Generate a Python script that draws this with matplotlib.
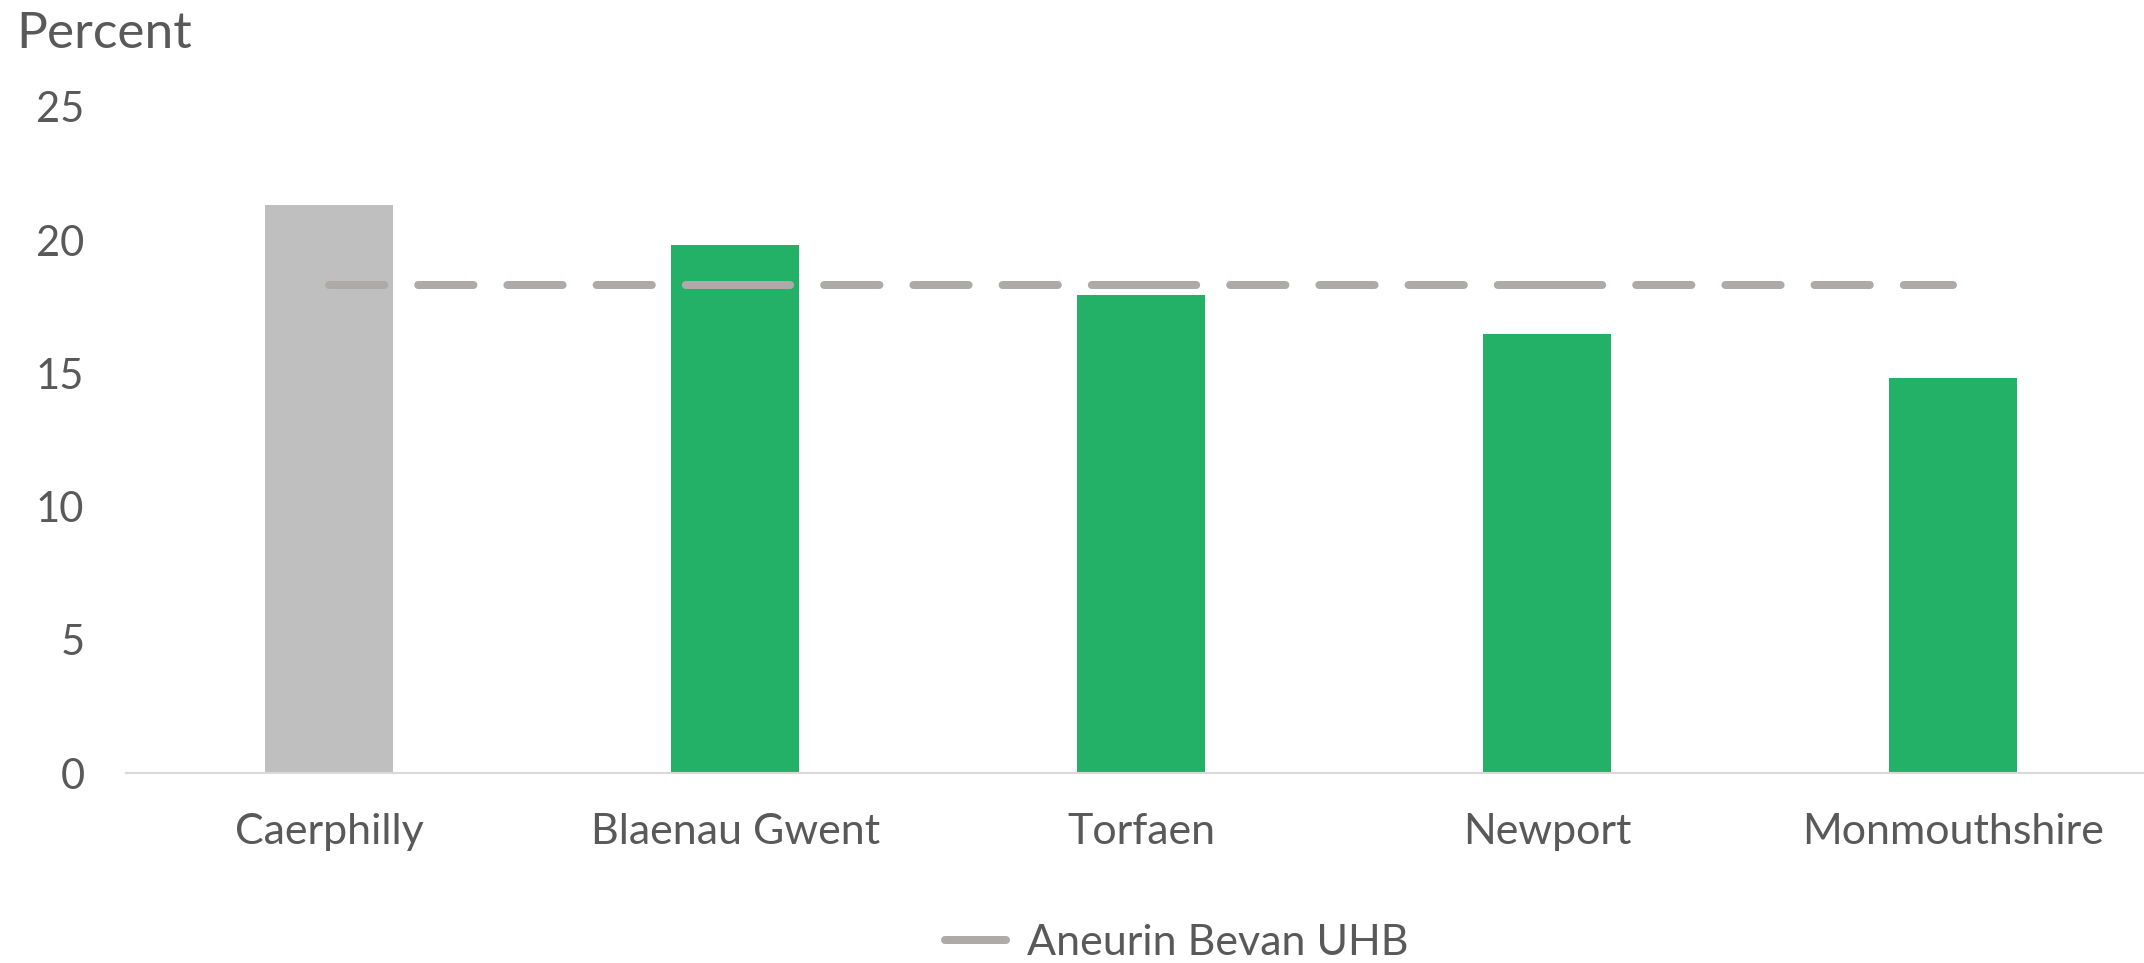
import matplotlib
matplotlib.use("Agg")
import matplotlib.pyplot as plt
from matplotlib.lines import Line2D

categories = ["Caerphilly", "Blaenau Gwent", "Torfaen", "Newport", "Monmouthshire"]
values = [21.33, 19.83, 17.95, 16.48, 14.82]
bar_colors = ["#BFBFBF", "#23B067", "#23B067", "#23B067", "#23B067"]
uhb_value = [18.3, 18.3, 18.3, 18.3, 18.3]
uhb_label = "Aneurin Bevan UHB"
yticks = [0, 5, 10, 15, 20, 25]
ylabel = "Percent"

plt.rcParams['font.family'] = ['Lato', 'DejaVu Sans']
text_color = "#595959"
line_color = "#AEAAAA"

fig = plt.figure(figsize=(21.44, 9.63), dpi=100)
ax = fig.add_axes([0.0588, 0.1973, 0.9412, 0.6917])

x = list(range(len(categories)))
ax.bar(x, values, width=0.315, color=bar_colors, zorder=2)

lw = 5.76
for i in range(len(x) - 1):
    ax.plot(x[i:i + 2], uhb_value[i:i + 2], color=line_color, lw=lw,
            dashes=(6.9, 4.25), solid_capstyle='round', dash_capstyle='round', zorder=3)

ax.set_xlim(-0.5, 4.47)
ax.set_ylim(0, 25)
ax.set_yticks(yticks)
ax.set_xticks(x)
ax.set_xticklabels(categories)
ax.tick_params(axis='both', length=0, labelsize=30, colors=text_color)
ax.tick_params(axis='x', labelsize=31, pad=29)
ax.tick_params(axis='y', pad=30)
for s in ['top', 'right', 'left']:
    ax.spines[s].set_visible(False)
ax.spines['bottom'].set_color("#D9D9D9")
ax.spines['bottom'].set_linewidth(1.5)

fig.text(16 / 2144, 1 - 34 / 963, ylabel, fontsize=37, color=text_color,
         ha='left', va='center')

handle = Line2D([0], [0], color=line_color, lw=lw, solid_capstyle='round')
fig.legend([handle], [uhb_label], loc='center', bbox_to_anchor=(0.549, 1 - 943 / 963),
           frameon=False, fontsize=31, handlelength=1.4, handletextpad=0.5,
           labelcolor=text_color)

fig.savefig("out.png", dpi=100)
